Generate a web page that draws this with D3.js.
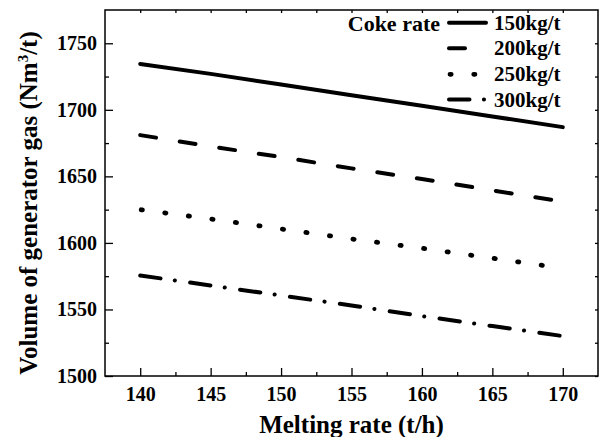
<!DOCTYPE html>
<html>
<head>
<meta charset="utf-8">
<script src="https://cdn.jsdelivr.net/npm/d3@7"></script>
<style>
  html, body { margin: 0; padding: 0; background: #fff; }
  svg { display: block; }
  text { font-family: "Liberation Serif", "Times New Roman", serif; font-weight: bold; fill: #000; }
</style>
</head>
<body>
<svg id="chart" width="601" height="437"></svg>
<script>
// ---- data ----
const meltingRate = [140, 145, 150, 155, 160, 165, 170];
const seriesNames = ["150kg/t", "200kg/t", "250kg/t", "300kg/t"];
const coke150 = [1734.5, 1727, 1719, 1711, 1703, 1695, 1687];
const coke200 = [1681, 1672.5, 1664.5, 1656, 1648, 1639.5, 1631];
const coke250 = [1625, 1618, 1610.5, 1603, 1596, 1588.5, 1581];
const coke300 = [1575.5, 1568, 1560.5, 1553, 1545, 1537.5, 1530];
const xTicks = [140, 145, 150, 155, 160, 165, 170];
const xMinorTicks = [142.5, 147.5, 152.5, 157.5, 162.5, 167.5];
const yTicks = [1500, 1550, 1600, 1650, 1700, 1750];
const yMinorTicks = [1525, 1575, 1625, 1675, 1725];
const legendTitle = "Coke rate";
const xTitle = "Melting rate (t/h)";

// ---- styles ----
const dashes = ["none", "16,24", "1.2,22.55", "20.5,14.4,0.1,15.4"];
const offsets = [0, 0, -1, 0];
const widths = [4, 4, 4.8, 4];
const allSeries = [coke150, coke200, coke250, coke300];

const svg = d3.select("#chart");
const L = 105, R = 598, T = 10, B = 376;

const x = d3.scaleLinear().domain([137.5, 172.5]).range([L, R]);
const y = d3.scaleLinear().domain([1500, 1775]).range([B, T]);

// bottom axis (major + minor, inward)
svg.append("g").attr("transform", `translate(0,${B})`)
  .call(d3.axisBottom(x).tickValues(xTicks).tickSize(-8).tickPadding(11).tickFormat(d3.format("d")));
svg.append("g").attr("transform", `translate(0,${B})`)
  .call(d3.axisBottom(x).tickValues(xMinorTicks).tickSize(-4).tickFormat(""));
// left axis
svg.append("g").attr("transform", `translate(${L},0)`)
  .call(d3.axisLeft(y).tickValues(yTicks).tickSize(-8).tickPadding(8).tickFormat(d3.format("d")));
svg.append("g").attr("transform", `translate(${L},0)`)
  .call(d3.axisLeft(y).tickValues(yMinorTicks).tickSize(-4).tickFormat(""));
// top axis small ticks
svg.append("g").attr("transform", `translate(0,${T})`)
  .call(d3.axisTop(x).tickValues(xTicks.concat(xMinorTicks)).tickSize(-3).tickFormat(""));
// right axis small ticks
svg.append("g").attr("transform", `translate(${R},0)`)
  .call(d3.axisRight(y).tickValues(yTicks.concat(yMinorTicks)).tickSize(-3).tickFormat(""));

svg.selectAll(".domain").remove();
svg.selectAll(".tick line").attr("stroke", "#000").attr("stroke-width", 1.3);
svg.selectAll(".tick text").style("font-size", "20px").style("font-family", "'Liberation Serif', serif").style("font-weight", "bold").attr("fill", "#000");

// frame
svg.append("rect").attr("x", L).attr("y", T).attr("width", R - L).attr("height", B - T)
  .attr("fill", "none").attr("stroke", "#000").attr("stroke-width", 1.5);

// lines
const line = d3.line().x((d, i) => x(meltingRate[i])).y(d => y(d));
allSeries.forEach((s, k) => {
  svg.append("path").datum(s)
    .attr("d", line)
    .attr("fill", "none")
    .attr("stroke", "#000")
    .attr("stroke-width", widths[k])
    .attr("stroke-linecap", "round")
    .attr("stroke-dasharray", dashes[k])
    .attr("stroke-dashoffset", offsets[k]);
});

// legend
const legY = [22.7, 48.3, 74.3, 99.5];
svg.append("text").attr("x", 440).attr("y", 31).attr("text-anchor", "end")
  .style("font-size", "22px").text(legendTitle);
seriesNames.forEach((n, k) => {
  svg.append("line").attr("x1", 449).attr("x2", 486).attr("y1", legY[k]).attr("y2", legY[k])
    .attr("stroke", "#000").attr("stroke-width", widths[k])
    .attr("stroke-linecap", "round").attr("stroke-dasharray", dashes[k])
    .attr("stroke-dashoffset", offsets[k]);
  svg.append("text").attr("x", 494).attr("y", legY[k] + 7)
    .style("font-size", "21px").text(n);
});

// axis titles
svg.append("text").attr("x", (L + R) / 2).attr("y", 433).attr("text-anchor", "middle")
  .style("font-size", "25px").text(xTitle);
const yt = svg.append("text").attr("transform", "translate(37,203) rotate(-90)")
  .attr("text-anchor", "middle").style("font-size", "25px");
yt.append("tspan").text("Volume of generator gas (Nm");
yt.append("tspan").attr("dy", -9).style("font-size", "15px").text("3");
yt.append("tspan").attr("dy", 9).text("/t)");
</script>
</body>
</html>
